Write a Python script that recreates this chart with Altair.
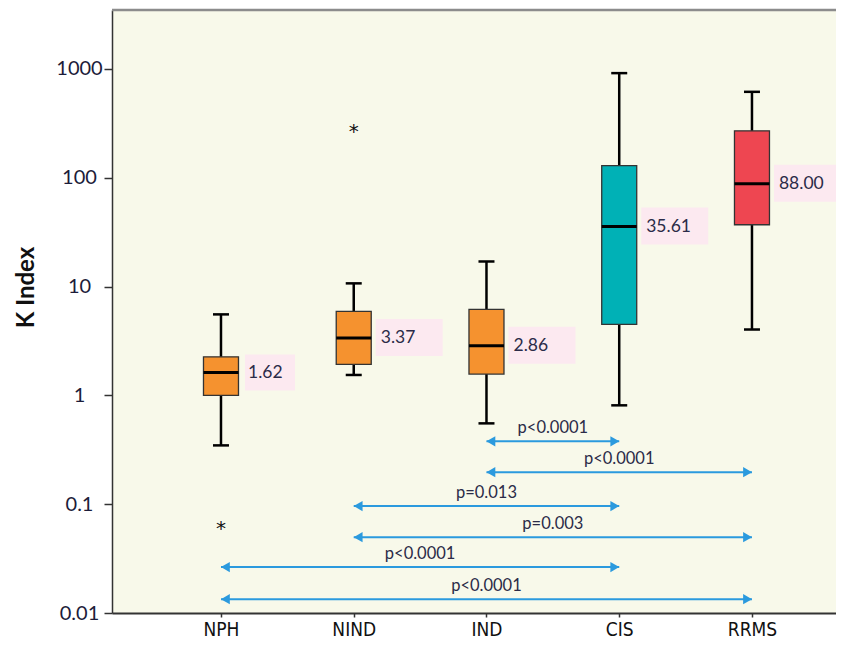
import json
import altair as alt
import pandas as pd

# ---------------- data ----------------
categories = ["NPH", "NIND", "IND", "CIS", "RRMS"]
whisker_low = [0.347, 1.54, 0.553, 0.81, 4.03]
q1 = [1.0, 1.93, 1.57, 4.5, 37.0]
median = [1.62, 3.37, 2.86, 35.61, 88.00]
q3 = [2.26, 5.92, 6.17, 129.0, 270.0]
whisker_high = [5.55, 10.7, 17.0, 915.0, 616.0]
median_labels = ["1.62", "3.37", "2.86", "35.61", "88.00"]
box_colors = ["#f5922f", "#f5922f", "#f5922f", "#00b1b6", "#ee4651"]

outlier_groups = ["NIND", "NPH"]
outlier_values = [284.0, 0.064]

cmp_from = ["IND", "IND", "NIND", "NIND", "NPH", "NPH"]
cmp_to = ["CIS", "RRMS", "CIS", "RRMS", "CIS", "RRMS"]
cmp_level = [0.378, 0.197, 0.096, 0.0498, 0.0264, 0.0134]
cmp_text = ["p<0.0001", "p<0.0001", "p=0.013", "p=0.003", "p<0.0001", "p<0.0001"]

y_ticks = [0.01, 0.1, 1, 10, 100, 1000]

# ---------------- tables ----------------
pos = {c: i + 1 for i, c in enumerate(categories)}
box_df = pd.DataFrame({
    "cat": categories,
    "pos": [pos[c] for c in categories],
    "lo": whisker_low, "q1": q1, "med": median, "q3": q3, "hi": whisker_high,
    "label": median_labels, "color": box_colors,
})
out_df = pd.DataFrame({"pos": [pos[c] for c in outlier_groups], "val": outlier_values})
cmp_df = pd.DataFrame({
    "a": [pos[c] for c in cmp_from],
    "b": [pos[c] for c in cmp_to],
    "level": cmp_level,
    "text": cmp_text,
})

W, H = 724, 603
FONT = "Lato, Open Sans, sans-serif"
TXT = "#2b2b48"
BLUE = "#2b9ade"

x_scale = alt.Scale(domain=[0.179, 5.633], nice=False, zero=False)
y_scale = alt.Scale(type="log", domain=[0.01, 3480], nice=False)

label_expr = json.dumps(categories) + "[datum.value - 1]"
x_axis = alt.Axis(values=[1, 2, 3, 4, 5], labelExpr=label_expr, title=None,
                  labelFont="Liberation Sans Narrow, DejaVu Sans Condensed, Liberation Sans, sans-serif",
                  labelFontSize=19, labelColor="#111111", labelPadding=3,
                  tickSize=4, tickWidth=1.5, tickColor="#333",
                  domainColor="#333", domainWidth=2, grid=False, labelFlush=False)
y_axis = alt.Axis(values=y_ticks,
                  labelExpr="datum.value < 1 ? format(datum.value, '.2~f') : format(datum.value, 'd')",
                  title="K Index", titleFont=FONT, titleFontSize=24, titleFontWeight="bold",
                  titleColor="#111", titleX=-86, titleY=277, titleAngle=270,
                  titleAlign="center", titleBaseline="middle",
                  labelFont=FONT, labelFontSize=20, labelColor="#1c1c3a",
                  labelAlign="center", labelBaseline="middle", labelPadding=25,
                  tickSize=8, tickWidth=1.5, tickColor="#333",
                  domainColor="#333", domainWidth=1.5, grid=False,
                  labelFlush=False, labelOverlap=False)


def xq(field):
    return alt.X(f"{field}:Q", scale=x_scale, axis=x_axis)


def yq(field):
    return alt.Y(f"{field}:Q", scale=y_scale, axis=y_axis)


base = alt.Chart(box_df)

whisker = base.mark_rule(color="black", strokeWidth=2.5).encode(
    x=xq("pos"), y=yq("lo"), y2="hi:Q")
cap_lo = base.mark_rule(color="black", strokeWidth=2.5, xOffset=-8, x2Offset=8).encode(
    x=xq("pos"), x2="pos:Q", y=yq("lo"))
cap_hi = base.mark_rule(color="black", strokeWidth=2.5, xOffset=-8, x2Offset=8).encode(
    x=xq("pos"), x2="pos:Q", y=yq("hi"))
box = base.mark_rect(xOffset=-17.5, x2Offset=17.5, stroke="#333", strokeWidth=1.3).encode(
    x=xq("pos"), x2="pos:Q", y=yq("q1"), y2="q3:Q",
    fill=alt.Fill("color:N", scale=None))
med_line = base.mark_rule(color="black", strokeWidth=3, xOffset=-17.5, x2Offset=17.5).encode(
    x=xq("pos"), x2="pos:Q", y=yq("med"))

lab_bg_small = base.transform_filter(alt.datum.cat == "NPH").mark_rect(
    color="#fce9f0", xOffset=24, x2Offset=74, yOffset=-18, y2Offset=18).encode(
    x=xq("pos"), x2="pos:Q", y=yq("med"), y2="med:Q")
lab_bg = base.transform_filter(alt.datum.cat != "NPH").mark_rect(
    color="#fce9f0", xOffset=22, x2Offset=89, yOffset=-19, y2Offset=18).encode(
    x=xq("pos"), x2="pos:Q", y=yq("med"), y2="med:Q")
lab_txt = base.mark_text(align="left", baseline="middle", xOffset=27, fontSize=17.5,
                         font=FONT, color=TXT).encode(
    x=xq("pos"), y=yq("med"), text="label:N")

outliers = alt.Chart(out_df).mark_text(text="*", fontSize=20, font="DejaVu Sans",
                                       color="#111", baseline="alphabetic", dy=10).encode(
    x=xq("pos"), y=yq("val"))

arrow_base = alt.Chart(cmp_df)
arr_line = arrow_base.mark_rule(color=BLUE, strokeWidth=2).encode(
    x=xq("a"), x2="b:Q", y=yq("level"))
arr_left = arrow_base.mark_point(shape="triangle-left", filled=True, size=105, color=BLUE,
                                 opacity=1, xOffset=4.4).encode(x=xq("a"), y=yq("level"))
arr_right = arrow_base.mark_point(shape="triangle-right", filled=True, size=105, color=BLUE,
                                  opacity=1, xOffset=-4.4).encode(x=xq("b"), y=yq("level"))
arr_txt = arrow_base.transform_calculate(mid="(datum.a + datum.b) / 2").mark_text(
    baseline="middle", dy=-13, fontSize=16.5, font=FONT, color=TXT).encode(
    x=xq("mid"), y=yq("level"), text="text:N")

top_border = alt.Chart(pd.DataFrame({"k": [0]})).mark_rule(
    color="#8c8c8c", strokeWidth=2.5).encode(
    x=alt.value(0), x2=alt.value(W), y=alt.value(0))

chart = alt.layer(
    lab_bg_small, lab_bg, whisker, cap_lo, cap_hi, box, med_line, lab_txt,
    outliers, arr_line, arr_left, arr_right, arr_txt, top_border,
).properties(
    width=W, height=H,
    autosize=alt.AutoSizeParams(type="none"),
    padding={"left": 104, "top": 2, "right": 0, "bottom": 25},
    background="white",
).configure_view(stroke=None, fill="#f8f9ea")

chart.save("out.html", embed_options={"renderer": "svg", "actions": False})
